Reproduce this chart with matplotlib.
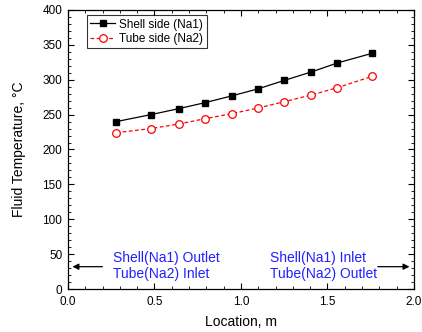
import matplotlib
matplotlib.use("Agg")
import matplotlib.pyplot as plt
from matplotlib.ticker import MultipleLocator, FormatStrFormatter

plt.rcParams['font.family'] = ['Liberation Sans', 'DejaVu Sans']

location = [0.28, 0.48, 0.64, 0.79, 0.95, 1.10, 1.25, 1.405, 1.557, 1.76]
shell_na1 = [240, 250, 258.5, 267, 277, 287, 299, 311, 324, 338]
tube_na2 = [224, 230, 236.5, 244, 251.5, 259.5, 268.5, 278, 288.5, 305]

fig = plt.figure(figsize=(4.22, 3.32), dpi=100)
ax = fig.add_axes([0.161, 0.1295, 0.820, 0.8405])

ax.plot(location, shell_na1, color='black', lw=0.9, marker='s', ms=5,
        mfc='black', mec='black', label='Shell side (Na1)')
ax.plot(location, tube_na2, color='red', lw=0.9, ls=(0, (3, 2)), marker='o', ms=5.5,
        mfc='white', mec='red', mew=0.9, label='Tube side (Na2)')

ax.set_xlim(0, 2.0)
ax.set_ylim(0, 400)
ax.xaxis.set_major_locator(MultipleLocator(0.5))
ax.xaxis.set_minor_locator(MultipleLocator(0.1))
ax.xaxis.set_major_formatter(FormatStrFormatter('%.1f'))
ax.yaxis.set_major_locator(MultipleLocator(50))
ax.yaxis.set_minor_locator(MultipleLocator(10))
ax.tick_params(which='both', direction='in', top=True, right=True, labelsize=8.5)
ax.tick_params(axis='x', pad=5)
ax.tick_params(axis='y', pad=4)
ax.tick_params(which='major', length=4, width=0.8)
ax.tick_params(which='minor', length=2, width=0.6)
for s in ax.spines.values():
    s.set_linewidth(0.9)

ax.set_xlabel('Location, m', fontsize=10, labelpad=5)
ax.set_ylabel('Fluid Temperature, °C', fontsize=10, labelpad=12)

leg = ax.legend(loc='upper left', bbox_to_anchor=(0.054, 0.982), fontsize=8.5,
                frameon=True, fancybox=False, edgecolor='black', handlelength=2.1,
                borderpad=0.3, labelspacing=0.2, handletextpad=0.35, borderaxespad=0.0)
leg.get_frame().set_linewidth(0.8)

ax.annotate('', xy=(0.01, 32), xytext=(0.215, 32),
            arrowprops=dict(arrowstyle='-|>', color='black', lw=0.9, mutation_scale=9))
ax.annotate('', xy=(1.99, 32), xytext=(1.775, 32),
            arrowprops=dict(arrowstyle='-|>', color='black', lw=0.9, mutation_scale=9))
ax.text(0.258, 33, 'Shell(Na1) Outlet\nTube(Na2) Inlet', color='#2020ff', fontsize=10,
        va='center', ha='left', linespacing=1.15)
ax.text(1.168, 33, 'Shell(Na1) Inlet\nTube(Na2) Outlet', color='#2020ff', fontsize=10,
        va='center', ha='left', linespacing=1.15)

fig.savefig('out.png', dpi=100)
